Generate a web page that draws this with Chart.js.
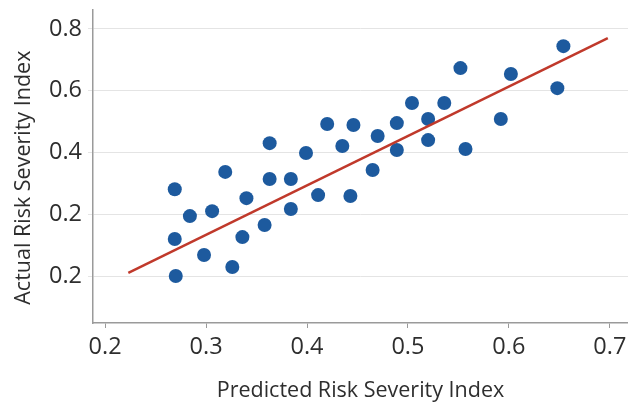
<!DOCTYPE html>
<html>
<head>
<meta charset="utf-8">
<script src="https://cdn.jsdelivr.net/npm/chart.js@4"></script>
<style>
  html, body { margin: 0; padding: 0; background: #fff; }
  #wrap { position: relative; width: 628px; height: 405px; }
</style>
</head>
<body>
<div id="wrap"><canvas id="chart"></canvas></div>
<script>
// ── Data ────────────────────────────────────────────────────────────────────
const predicted = [0.269, 0.284, 0.306, 0.319, 0.340, 0.363, 0.363, 0.384, 0.384, 0.358,
                   0.269, 0.336, 0.298, 0.326, 0.270, 0.399, 0.411, 0.420, 0.435, 0.443,
                   0.446, 0.465, 0.470, 0.489, 0.489, 0.504, 0.520, 0.520, 0.536, 0.552,
                   0.557, 0.592, 0.602, 0.648, 0.654];
const actual    = [0.281, 0.194, 0.210, 0.337, 0.252, 0.430, 0.314, 0.314, 0.217, 0.165,
                   0.120, 0.126, 0.068, 0.029, 0.000, 0.398, 0.262, 0.492, 0.421, 0.259,
                   0.489, 0.343, 0.453, 0.495, 0.408, 0.560, 0.508, 0.440, 0.560, 0.673,
                   0.411, 0.508, 0.654, 0.608, 0.744];

const fitX = [0.223, 0.698];
const fitY = [0.010, 0.770];

const xTickValues = [0.2, 0.3, 0.4, 0.5, 0.6, 0.7];
const yTickValues = [0.0, 0.2, 0.4, 0.6, 0.8];
const yTickLabels = ['0.2', '0.2', '0.4', '0.6', '0.8'];

const xTitle = 'Predicted Risk Severity Index';
const yTitle = 'Actual Risk Severity Index';

// ── Style ───────────────────────────────────────────────────────────────────
const FONT      = "'Open Sans', 'Noto Sans', sans-serif";
const DOT_COLOR = '#1d5a9e';
const FIT_COLOR = '#c0392b';
const GRID      = '#e4e4e4';
const AXIS      = '#9a9a9a';
const TEXT      = '#2e2e2e';

const points = predicted.map((x, i) => ({ x, y: actual[i] }));
const fit    = fitX.map((x, i) => ({ x, y: fitY[i] }));

new Chart(document.getElementById('chart'), {
  type: 'scatter',
  data: {
    datasets: [
      {
        label: 'Observed',
        data: points,
        backgroundColor: DOT_COLOR,
        borderWidth: 0,
        pointRadius: 7,
        order: 2,
      },
      {
        type: 'line',
        label: 'Fit',
        data: fit,
        borderColor: FIT_COLOR,
        borderWidth: 2.5,
        pointRadius: 0,
        fill: false,
        order: 1,
      },
    ],
  },
  options: {
    responsive: true,
    maintainAspectRatio: false,
    animation: false,
    layout: { autoPadding: false, padding: { top: 10, right: 0, left: 0, bottom: 0 } },
    plugins: { legend: { display: false }, tooltip: { enabled: false } },
    scales: {
      x: {
        type: 'linear',
        min: 0.188,
        max: 0.718,
        afterBuildTicks: s => { s.ticks = xTickValues.map(v => ({ value: v })); },
        afterFit: s => { s.height = 82; s.paddingLeft = 0; s.paddingRight = 0; },
        grid: { drawOnChartArea: false, drawTicks: true, tickLength: 5, color: AXIS },
        border: { color: AXIS, width: 1.5 },
        ticks: {
          padding: 5,
          color: TEXT,
          font: { family: FONT, size: 23.5 },
          callback: v => Number(v).toFixed(1),
        },
        title: {
          display: true,
          text: xTitle,
          color: TEXT,
          font: { family: FONT, size: 21.5, lineHeight: 1 },
          padding: { top: 0, bottom: 3 },
        },
      },
      y: {
        type: 'linear',
        min: -0.152,
        max: 0.861,
        afterBuildTicks: s => { s.ticks = yTickValues.map(v => ({ value: v })); },
        afterFit: s => { s.width = 93; s.paddingTop = 0; s.paddingBottom = 0; },
        grid: { color: GRID, lineWidth: 1, tickLength: 5 },
        border: { color: AXIS, width: 1.5 },
        ticks: {
          padding: 6,
          color: TEXT,
          font: { family: FONT, size: 23.5 },
          callback: (v, i) => yTickLabels[i],
        },
        title: {
          display: true,
          text: yTitle + '    ',
          color: TEXT,
          font: { family: FONT, size: 21.5, lineHeight: 1 },
          padding: { top: 13, bottom: 0 },
        },
      },
    },
  },
});
</script>
</body>
</html>
